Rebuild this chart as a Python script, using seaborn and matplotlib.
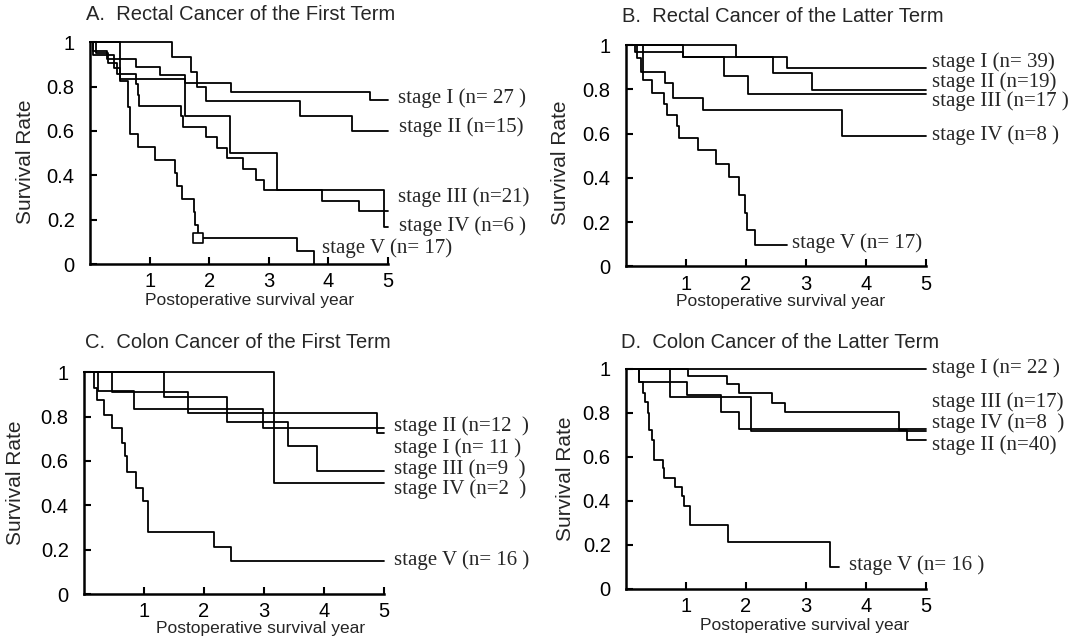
import matplotlib
matplotlib.use("Agg")
import matplotlib.pyplot as plt
import seaborn as sns
import pandas as pd

# ---------------- data (time in years, survival rate) ----------------
# Panel A: Rectal Cancer of the First Term
A_I_t = [0, 0.05, 0.29, 0.77, 1.17, 1.60, 2.36, 4.70, 5.0]
A_I_s = [1, 0.963, 0.926, 0.889, 0.852, 0.815, 0.778, 0.741, 0.741]
A_II_t = [0, 1.38, 1.70, 1.80, 1.94, 3.52, 4.39, 5.0]
A_II_s = [1, 0.933, 0.867, 0.800, 0.733, 0.667, 0.600, 0.600]
A_III_t = [0, 0.10, 0.30, 0.45, 0.77, 0.80, 0.82, 1.52, 1.56, 1.94, 2.13, 2.30, 2.57, 2.78, 2.92, 3.89, 4.51, 5.0]
A_III_s = [1, 0.952, 0.905, 0.857, 0.810, 0.762, 0.714, 0.667, 0.619, 0.571, 0.524, 0.476, 0.429, 0.381, 0.333, 0.286, 0.238, 0.238]
A_IV_t = [0, 0.51, 1.60, 2.35, 3.13, 4.94, 5.0]
A_IV_s = [1, 0.833, 0.667, 0.500, 0.333, 0.167, 0.167]
A_V_t = [0, 0.05, 0.40, 0.50, 0.63, 0.67, 0.81, 1.09, 1.42, 1.46, 1.55, 1.74, 1.77, 1.82, 3.47, 3.75]
A_V_s = [1, 0.941, 0.882, 0.824, 0.706, 0.588, 0.529, 0.471, 0.412, 0.353, 0.294, 0.235, 0.176, 0.118, 0.059, 0.0]
A_V_censor_t = [1.82]
A_V_censor_s = [0.118]

# Panel B: Rectal Cancer of the Latter Term
B_I_t = [0, 1.84, 2.69, 5.0]
B_I_s = [1, 0.945, 0.898, 0.898]
B_II_t = [0, 0.16, 0.96, 2.46, 3.10, 5.0]
B_II_s = [1, 0.970, 0.945, 0.873, 0.795, 0.795]
B_III_t = [0, 0.96, 1.63, 2.03, 5.0]
B_III_s = [1, 0.945, 0.858, 0.778, 0.778]
B_IV_t = [0, 0.28, 0.66, 0.79, 1.29, 3.60, 5.0]
B_IV_s = [1, 0.876, 0.828, 0.760, 0.707, 0.590, 0.590]
B_V_t = [0, 0.18, 0.25, 0.28, 0.43, 0.63, 0.68, 0.86, 0.89, 1.21, 1.51, 1.72, 1.88, 1.98, 2.02, 2.16, 2.68]
B_V_s = [1, 0.940, 0.880, 0.840, 0.783, 0.735, 0.685, 0.635, 0.580, 0.526, 0.463, 0.403, 0.323, 0.243, 0.164, 0.094, 0.094]

# Panel C: Colon Cancer of the First Term
C_I_t = [0, 0.47, 1.73, 4.89, 5.0]
C_I_s = [1, 0.909, 0.818, 0.727, 0.727]
C_II_t = [0, 0.23, 0.84, 2.98, 5.0]
C_II_s = [1, 0.917, 0.833, 0.750, 0.750]
C_III_t = [0, 1.34, 2.39, 3.40, 3.89, 5.0]
C_III_s = [1, 0.889, 0.778, 0.667, 0.556, 0.556]
C_IV_t = [0, 3.17, 5.0]
C_IV_s = [1, 0.5, 0.5]
C_V_t = [0, 0.17, 0.22, 0.33, 0.47, 0.63, 0.68, 0.72, 0.87, 0.98, 1.07, 2.16, 2.45, 5.0]
C_V_s = [1, 0.929, 0.874, 0.809, 0.749, 0.681, 0.621, 0.549, 0.478, 0.418, 0.278, 0.212, 0.147, 0.147]

# Panel D: Colon Cancer of the Latter Term
D_I_t = [0, 5.0]
D_I_s = [1, 1]
D_II_t = [0, 1.04, 1.68, 1.88, 2.44, 2.65, 4.56, 4.68, 5.0]
D_II_s = [1, 0.965, 0.929, 0.891, 0.845, 0.804, 0.722, 0.675, 0.675]
D_III_t = [0, 0.22, 1.01, 1.58, 1.89, 5.0]
D_III_s = [1, 0.940, 0.879, 0.804, 0.725, 0.725]
D_IV_t = [0, 0.74, 2.09, 5.0]
D_IV_s = [1, 0.869, 0.718, 0.718]
D_V_t = [0, 0.22, 0.28, 0.32, 0.36, 0.39, 0.43, 0.46, 0.61, 0.64, 0.82, 0.93, 0.96, 1.07, 1.70, 3.41, 3.56]
D_V_s = [1, 0.940, 0.887, 0.849, 0.796, 0.721, 0.676, 0.585, 0.548, 0.502, 0.460, 0.419, 0.374, 0.288, 0.211, 0.100, 0.100]

titles = ["A.  Rectal Cancer of the First Term", "B.  Rectal Cancer of the Latter Term",
          "C.  Colon Cancer of the First Term", "D.  Colon Cancer of the Latter Term"]

A_labels = ["stage I (n= 27 )", "stage II (n=15)", "stage III (n=21)", "stage IV (n=6 )", "stage V (n= 17)"]
B_labels = ["stage I (n= 39)", "stage II (n=19)", "stage III (n=17 )", "stage IV (n=8 )", "stage V (n= 17)"]
C_labels = ["stage II (n=12  )", "stage I (n= 11 )", "stage III (n=9  )", "stage IV (n=2  )", "stage V (n= 16 )"]
D_labels = ["stage I (n= 22 )", "stage III (n=17)", "stage IV (n=8  )", "stage II (n=40)", "stage V (n= 16 )"]

y_ticks = [0, 0.2, 0.4, 0.6, 0.8, 1.0]
y_ticklabels = ["0", "0.2", "0.4", "0.6", "0.8", "1"]
x_ticks = [1, 2, 3, 4, 5]
x_ticklabels = ["1", "2", "3", "4", "5"]

# ---------------- styling / layout ----------------
sns.set_style("ticks")
plt.rcParams["font.family"] = ["Liberation Sans", "DejaVu Sans"]

fig = plt.figure(figsize=(10.73, 6.38), dpi=100)
W, H = 1073, 638

def rect(left, right, top, bottom):
    return [left / W, (H - bottom) / H, (right - left) / W, (bottom - top) / H]

panels = [
    dict(rect=rect(90, 388, 42.3, 264), title_xy=(86, 15),
         curves=[(A_I_t, A_I_s), (A_II_t, A_II_s), (A_III_t, A_III_s), (A_IV_t, A_IV_s), (A_V_t, A_V_s)],
         labels=A_labels,
         label_pos=[(5.16, 0.747), (5.19, 0.618), (5.16, 0.30), (5.19, 0.171), (3.90, 0.073)],
         ylab=(-0.215, 0.46), xlab=(0.535, -0.165)),
    dict(rect=rect(625.7, 925.7, 45, 266.3), title_xy=(622, 16),
         curves=[(B_I_t, B_I_s), (B_II_t, B_II_s), (B_III_t, B_III_s), (B_IV_t, B_IV_s), (B_V_t, B_V_s)],
         labels=B_labels,
         label_pos=[(5.10, 0.924), (5.10, 0.83), (5.10, 0.745), (5.10, 0.594), (2.77, 0.103)],
         ylab=(-0.217, 0.47), xlab=(0.517, -0.16)),
    dict(rect=rect(84, 384, 372.3, 594), title_xy=(85, 342),
         curves=[(C_I_t, C_I_s), (C_II_t, C_II_s), (C_III_t, C_III_s), (C_IV_t, C_IV_s), (C_V_t, C_V_s)],
         labels=C_labels,
         label_pos=[(5.16, 0.758), (5.16, 0.66), (5.16, 0.565), (5.16, 0.473), (5.16, 0.152)],
         ylab=(-0.227, 0.5), xlab=(0.59, -0.155)),
    dict(rect=rect(626, 925.7, 368.5, 588.7), title_xy=(621, 342),
         curves=[(D_I_t, D_I_s), (D_II_t, D_II_s), (D_III_t, D_III_s), (D_IV_t, D_IV_s), (D_V_t, D_V_s)],
         labels=D_labels,
         label_pos=[(5.10, 1.0), (5.10, 0.845), (5.10, 0.75), (5.10, 0.65), (3.72, 0.108)],
         ylab=(-0.203, 0.5), xlab=(0.597, -0.165)),
]

for i, p in enumerate(panels):
    ax = fig.add_axes(p["rect"])
    for t, s in p["curves"]:
        df = pd.DataFrame({"time": t, "surv": s})
        sns.lineplot(data=df, x="time", y="surv", ax=ax, color="black", linewidth=1.3,
                     drawstyle="steps-post", estimator=None, sort=False, clip_on=False)
    if i == 0:
        cdf = pd.DataFrame({"time": A_V_censor_t, "surv": A_V_censor_s})
        sns.scatterplot(data=cdf, x="time", y="surv", ax=ax, marker="s", s=55,
                        facecolor="white", edgecolor="black", linewidth=1.2, zorder=5, clip_on=False)
    for lab, (lx, ly) in zip(p["labels"], p["label_pos"]):
        ax.text(lx, ly, lab, family=["Liberation Serif", "DejaVu Serif"], fontsize=15,
                ha="left", va="center", clip_on=False)
    ax.set_xlim(0, 5)
    ax.set_ylim(0, 1)
    ax.set_xticks(x_ticks)
    ax.set_xticklabels(x_ticklabels)
    ax.set_yticks(y_ticks)
    ax.set_yticklabels(y_ticklabels)
    ax.tick_params(axis="both", direction="in", length=5, width=1.5, labelsize=14.5, colors="black")
    ax.tick_params(axis="x", pad=6)
    ax.tick_params(axis="y", pad=11)
    for side in ["top", "right"]:
        ax.spines[side].set_visible(False)
    for side in ["left", "bottom"]:
        ax.spines[side].set_linewidth(1.8)
        ax.spines[side].set_color("black")
    ax.set_xlabel("Postoperative survival year", fontsize=12.5)
    ax.set_ylabel("Survival Rate", fontsize=15)
    ax.xaxis.set_label_coords(*p["xlab"])
    ax.xaxis.label.set_verticalalignment("center")
    ax.yaxis.set_label_coords(*p["ylab"])
    ax.yaxis.label.set_verticalalignment("center")
    ax.yaxis.label.set_horizontalalignment("center")
    fig.text(p["title_xy"][0] / W, 1 - p["title_xy"][1] / H, titles[i], fontsize=14.5,
             ha="left", va="center")

fig.savefig("out.png", dpi=100, facecolor="white")
